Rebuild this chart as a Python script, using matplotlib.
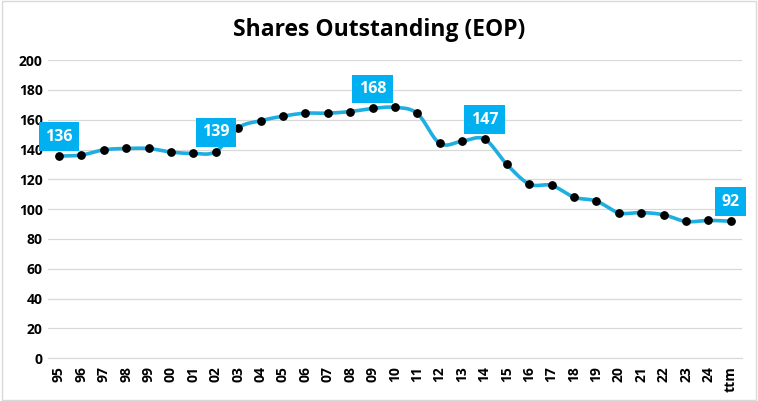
import numpy as np
import matplotlib.pyplot as plt
from matplotlib.patches import Rectangle

years = ["95", "96", "97", "98", "99", "00", "01", "02", "03", "04", "05", "06",
         "07", "08", "09", "10", "11", "12", "13", "14", "15", "16", "17", "18",
         "19", "20", "21", "22", "23", "24", "ttm"]
shares = [135.6, 136.3, 139.8, 140.7, 140.7, 138.3, 137.4, 138.6, 154.6, 159.3,
          162.4, 164.4, 164.4, 165.5, 167.6, 168.3, 164.2, 144.1, 145.6, 147.0,
          130.0, 116.8, 115.9, 108.0, 105.4, 97.5, 97.7, 96.2, 91.7, 92.4, 91.9]
labeled = ["95", "02", "09", "14", "ttm"]

line_color = "#1FAEE0"
box_color = "#00B0F0"


def smooth(xs, ys, n=20):
    # catmull-rom style curve like excel's smoothed line
    xs = np.asarray(xs, float)
    ys = np.asarray(ys, float)
    px = np.concatenate([[2 * xs[0] - xs[1]], xs, [2 * xs[-1] - xs[-2]]])
    py = np.concatenate([[2 * ys[0] - ys[1]], ys, [2 * ys[-1] - ys[-2]]])
    ox, oy = [], []
    t = np.linspace(0, 1, n, endpoint=False)
    for i in range(1, len(px) - 2):
        for a, out in ((px, ox), (py, oy)):
            p0, p1, p2, p3 = a[i - 1], a[i], a[i + 1], a[i + 2]
            out.extend(0.5 * (2 * p1 + (-p0 + p2) * t
                              + (2 * p0 - 5 * p1 + 4 * p2 - p3) * t ** 2
                              + (-p0 + 3 * p1 - 3 * p2 + p3) * t ** 3))
    ox.append(xs[-1])
    oy.append(ys[-1])
    return ox, oy


plt.rcParams["font.family"] = ["Open Sans", "DejaVu Sans"]

fig = plt.figure(figsize=(7.58, 4.01), dpi=100)
fig.patches.append(Rectangle((0.002, 0.003), 0.996, 0.994, transform=fig.transFigure,
                             fill=False, edgecolor="#D9D9D9", linewidth=1))
ax = fig.add_axes([0.063, 0.107, 0.916, 0.743])

x = np.arange(len(years))
sx, sy = smooth(x, shares)
ax.plot(sx, sy, color=line_color, linewidth=2.6, zorder=2)
ax.scatter(x, shares, s=28, color="black", zorder=3)

for yr in labeled:
    i = years.index(yr)
    ax.annotate(f"{shares[i]:.0f}", (i, shares[i]), xytext=(0, 14),
                textcoords="offset points", ha="center", va="center",
                color="white", fontsize=11.5, fontweight="bold",
                bbox=dict(boxstyle="square,pad=0.4", facecolor=box_color,
                          edgecolor="none"), zorder=4)

ax.set_xlim(-0.5, len(years) - 0.5)
ax.set_ylim(0, 200)
ax.set_yticks(range(0, 201, 20))
ax.set_xticks(x)
ax.set_xticklabels(years, rotation=90)
ax.tick_params(axis="both", length=0, labelsize=10)
ax.tick_params(axis="x", pad=6)
for lbl in ax.get_xticklabels() + ax.get_yticklabels():
    lbl.set_fontweight("bold")
ax.grid(axis="y", color="#D9D9D9", linewidth=0.9)
ax.set_axisbelow(True)
for s in ["top", "right", "left"]:
    ax.spines[s].set_visible(False)
ax.spines["bottom"].set_color("#D9D9D9")

fig.text(0.5, 0.925, "Shares Outstanding (EOP)", ha="center", va="center",
         fontsize=16.5, fontweight="bold")

fig.savefig("out.png", dpi=100)
